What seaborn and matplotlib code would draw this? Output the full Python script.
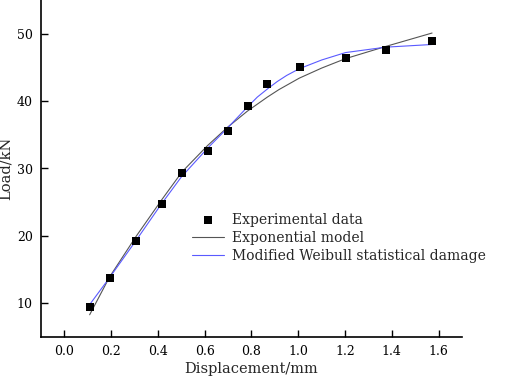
import numpy as np
import pandas as pd
import matplotlib
matplotlib.use("Agg")
import matplotlib.pyplot as plt
import seaborn as sns

## DADOS
exp_disp = [0.108, 0.193, 0.306, 0.417, 0.503, 0.616, 0.699, 0.784, 0.868, 1.006, 1.203, 1.373, 1.572]
exp_load = [9.5, 13.7, 19.3, 24.8, 29.3, 32.6, 35.5, 39.3, 42.6, 45.0, 46.4, 47.6, 48.9]

expo_disp = [0.108, 0.193, 0.306, 0.417, 0.503, 0.612, 0.697, 0.782, 0.868, 0.917, 1.004, 1.1, 1.202, 1.373, 1.572]
expo_load = [8.3, 13.9, 19.9, 25.4, 29.5, 33.4, 36.1, 38.5, 40.6, 41.7, 43.4, 44.9, 46.3, 48.1, 50.1]

weib_disp = [0.11, 0.193, 0.306, 0.412, 0.499, 0.612, 0.697, 0.782, 0.825, 0.868, 0.91, 0.95,
             1.004, 1.1, 1.202, 1.373, 1.572]
weib_load = [9.9, 13.8, 19.3, 24.6, 28.7, 33.0, 36.0, 39.1, 40.6, 41.8, 42.9, 43.8,
             44.8, 46.1, 47.2, 48.0, 48.4]

x_ticks = [0.0, 0.2, 0.4, 0.6, 0.8, 1.0, 1.2, 1.4, 1.6]
y_ticks = [10, 20, 30, 40, 50]

sns.set_style("ticks")
plt.rcParams['font.family'] = ['DejaVu Serif']

fig = plt.figure(figsize=(5.05, 3.83), dpi=100)
ax = fig.add_axes([41 / 505, 46 / 383, 421 / 505, 337 / 383])

sns.scatterplot(x=exp_disp, y=exp_load, marker='s', s=26, color='black',
                edgecolor='black', linewidth=0, label='Experimental data', ax=ax, zorder=3)
sns.lineplot(x=expo_disp, y=expo_load, color='#555555', linewidth=0.8,
             label='Exponential model', ax=ax)
sns.lineplot(x=weib_disp, y=weib_load, color='#5a5aff', linewidth=0.8,
             label='Modified Weibull statistical damage', ax=ax)

ax.set_xlim(-0.1, 1.7)
ax.set_ylim(5, 55)
ax.set_xticks(x_ticks)
ax.set_xticklabels([f"{v:.1f}" for v in x_ticks])
ax.set_yticks(y_ticks)
ax.tick_params(direction='in', length=5, width=1, labelsize=9, colors='black', pad=6)
for s in ['top', 'right']:
    ax.spines[s].set_visible(False)
for s in ['left', 'bottom']:
    ax.spines[s].set_linewidth(1.2)
    ax.spines[s].set_color('black')

ax.set_xlabel('Displacement/mm', fontsize=10.5, labelpad=3)
ax.set_ylabel('Load/kN', fontsize=10.5, labelpad=3)

ax.legend(loc='upper left', bbox_to_anchor=(0.345, 0.385), frameon=False,
          fontsize=10, handlelength=2.3, handletextpad=0.6,
          labelspacing=0.3, borderaxespad=0)

fig.savefig('out.png', dpi=100)
